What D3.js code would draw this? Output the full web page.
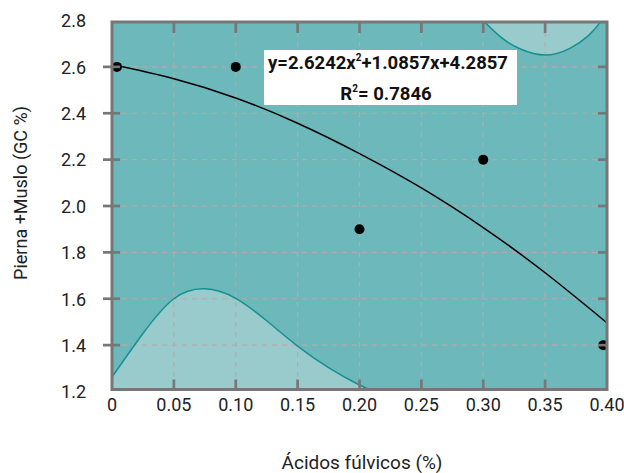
<!DOCTYPE html>
<html>
<head>
<meta charset="utf-8">
<script src="https://cdn.jsdelivr.net/npm/d3@7"></script>
<style>
  html, body { margin: 0; padding: 0; background: #fff; }
  svg { display: block; }
  text { font-family: Roboto, "DejaVu Sans", sans-serif; }
</style>
</head>
<body>
<script>
// ---- data ----
const xTicks = [0, 0.05, 0.10, 0.15, 0.20, 0.25, 0.30, 0.35, 0.40];
const xTickLabels = ["0", "0.05", "0.10", "0.15", "0.20", "0.25", "0.30", "0.35", "0.40"];
const yTicks = [1.2, 1.4, 1.6, 1.8, 2.0, 2.2, 2.4, 2.6, 2.8];
const yTickLabels = ["1.2", "1.4", "1.6", "1.8", "2.0", "2.2", "2.4", "2.6", "2.8"];

const pointsX = [0.004, 0.10, 0.20, 0.30, 0.397];
const pointsY = [2.60, 2.60, 1.90, 2.20, 1.40];

// trend curve
const trendX = [0, 0.05, 0.10, 0.15, 0.20, 0.25, 0.30, 0.35, 0.40];
const trendY = [2.61, 2.549, 2.466, 2.357, 2.226, 2.078, 1.907, 1.712, 1.496];

// lower light band (outline)
const lowX = [0, 0.025, 0.05, 0.075, 0.10, 0.125, 0.15, 0.175, 0.20, 0.225];
const lowY = [1.262, 1.45, 1.60, 1.643, 1.602, 1.505, 1.396, 1.303, 1.228, 1.17];

// upper light band
const upX = [0.29, 0.30, 0.315, 0.33, 0.35, 0.37, 0.385, 0.395, 0.405];
const upY = [2.86, 2.80, 2.725, 2.677, 2.651, 2.68, 2.735, 2.795, 2.87];

const eqLine1 = "y=2.6242x";
const eqLine1b = "+1.0857x+4.2857";
const eqLine2 = "R";
const eqLine2b = "= 0.7846";
const xTitle = "Ácidos fúlvicos (%)";
const yTitle = "Pierna +Muslo (GC %)";

// ---- layout ----
const W = 624, H = 473;
const L = 112, R = 607, T = 22, B = 389.5;

const svg = d3.select("body").append("svg").attr("width", W).attr("height", H);

const x = d3.scaleLinear().domain([0, 0.4]).range([L, R]);
const y = d3.scaleLinear().domain([1.2, 2.8]).range([391.5, 20.5]);

const defs = svg.append("defs");
defs.append("clipPath").attr("id", "plotclip")
  .append("rect").attr("x", L).attr("y", T).attr("width", R - L).attr("height", B - T);

// background
svg.append("rect").attr("x", L).attr("y", T).attr("width", R - L).attr("height", B - T)
  .attr("fill", "#6cb8bb");

const g = svg.append("g").attr("clip-path", "url(#plotclip)");

// light bands
const lowData = lowX.map((d, i) => [d, lowY[i]]);
const upData = upX.map((d, i) => [d, upY[i]]);

const areaLow = d3.area().curve(d3.curveNatural)
  .x(d => x(d[0])).y0(B + 20).y1(d => y(d[1]));
const areaUp = d3.area().curve(d3.curveNatural)
  .x(d => x(d[0])).y0(T - 20).y1(d => y(d[1]));
const lineC = d3.line().curve(d3.curveNatural).x(d => x(d[0])).y(d => y(d[1]));

g.append("path").attr("d", areaLow(lowData)).attr("fill", "#99cacc");
g.append("path").attr("d", areaUp(upData)).attr("fill", "#99cacc");

// grid
const gridColor = "#b7a9aa";
g.selectAll(".vg").data(xTicks.slice(1, -1)).enter().append("line")
  .attr("x1", d => x(d)).attr("x2", d => x(d)).attr("y1", T).attr("y2", B)
  .attr("stroke", gridColor).attr("stroke-width", 1.2).attr("stroke-dasharray", "5,5");
g.selectAll(".hg").data(yTicks.slice(1, -1)).enter().append("line")
  .attr("y1", d => y(d)).attr("y2", d => y(d)).attr("x1", L).attr("x2", R)
  .attr("stroke", gridColor).attr("stroke-width", 1.2).attr("stroke-dasharray", "5,5");

// band outlines
g.append("path").attr("d", lineC(lowData)).attr("fill", "none").attr("stroke", "#15908f").attr("stroke-width", 1.5);
g.append("path").attr("d", lineC(upData)).attr("fill", "none").attr("stroke", "#15908f").attr("stroke-width", 1.5);

// trend line
const trendData = trendX.map((d, i) => [d, trendY[i]]);
g.append("path").attr("d", lineC(trendData)).attr("fill", "none").attr("stroke", "#000").attr("stroke-width", 1.5);

// equation box
const box = svg.append("g");
box.append("rect").attr("x", 264).attr("y", 50).attr("width", 253).attr("height", 55).attr("fill", "#fff");
const t1 = box.append("text").attr("x", 388).attr("y", 68.5).attr("text-anchor", "middle")
  .attr("font-size", 18.5).attr("font-weight", 700).attr("fill", "#111");
t1.append("tspan").text(eqLine1);
t1.append("tspan").attr("font-size", 10).attr("dy", -8).text("2");
t1.append("tspan").attr("dy", 8).text(eqLine1b);
const t2 = box.append("text").attr("x", 386).attr("y", 99.5).attr("text-anchor", "middle")
  .attr("font-size", 18.5).attr("font-weight", 700).attr("fill", "#111");
t2.append("tspan").text(eqLine2);
t2.append("tspan").attr("font-size", 10).attr("dy", -8).text("2");
t2.append("tspan").attr("dy", 8).text(eqLine2b);

// points
svg.append("g").attr("clip-path", "url(#plotclip)")
  .selectAll("circle").data(pointsX.map((d, i) => [d, pointsY[i]])).enter().append("circle")
  .attr("cx", d => x(d[0])).attr("cy", d => y(d[1])).attr("r", 5).attr("fill", "#000");

// frame
const frameColor = "#777";
svg.append("rect").attr("x", L).attr("y", T).attr("width", R - L).attr("height", B - T)
  .attr("fill", "none").attr("stroke", frameColor).attr("stroke-width", 3);

// tick marks
const tk = svg.append("g").attr("stroke", frameColor).attr("stroke-width", 2.7);
xTicks.slice(1, -1).forEach(v => {
  tk.append("line").attr("x1", x(v)).attr("x2", x(v)).attr("y1", T).attr("y2", T + 11);
  tk.append("line").attr("x1", x(v)).attr("x2", x(v)).attr("y1", B).attr("y2", B - 10);
});
yTicks.slice(1, -1).forEach(v => {
  tk.append("line").attr("x1", L - 9).attr("x2", L + 8).attr("y1", y(v)).attr("y2", y(v));
  tk.append("line").attr("x1", R).attr("x2", R - 9).attr("y1", y(v)).attr("y2", y(v));
});

// tick labels
svg.append("g").selectAll("text").data(xTicks).enter().append("text")
  .attr("x", d => x(d)).attr("y", 411).attr("text-anchor", "middle")
  .attr("font-size", 18).attr("fill", "#222")
  .text((d, i) => xTickLabels[i]);
svg.append("g").selectAll("text").data(yTicks).enter().append("text")
  .attr("x", 86).attr("y", d => y(d)).attr("dy", "0.38em").attr("text-anchor", "end")
  .attr("font-size", 18).attr("fill", "#222")
  .text((d, i) => yTickLabels[i]);

// axis titles
svg.append("text").attr("x", 362).attr("y", 469).attr("text-anchor", "middle")
  .attr("font-size", 19).attr("fill", "#222").text(xTitle);
svg.append("text").attr("transform", "translate(27,193) rotate(-90)")
  .attr("text-anchor", "middle").attr("font-size", 18).attr("fill", "#222").text(yTitle);
</script>
</body>
</html>
